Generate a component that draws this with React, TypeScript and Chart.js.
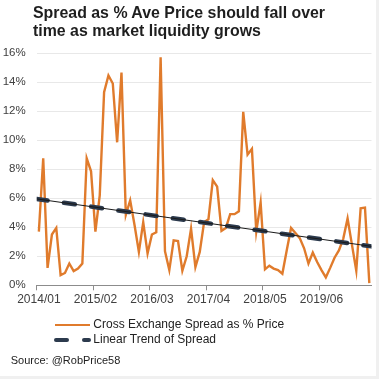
import React, { useEffect, useRef } from 'react';
import { Chart, registerables } from 'chart.js';

Chart.register(...registerables);

// Monthly categories 2014/01 .. 2020/05
const months: string[] = [
  '2014/01', '2014/02', '2014/03', '2014/04', '2014/05', '2014/06', '2014/07', '2014/08', '2014/09', '2014/10', '2014/11', '2014/12',
  '2015/01', '2015/02', '2015/03', '2015/04', '2015/05', '2015/06', '2015/07', '2015/08', '2015/09', '2015/10', '2015/11', '2015/12',
  '2016/01', '2016/02', '2016/03', '2016/04', '2016/05', '2016/06', '2016/07', '2016/08', '2016/09', '2016/10', '2016/11', '2016/12',
  '2017/01', '2017/02', '2017/03', '2017/04', '2017/05', '2017/06', '2017/07', '2017/08', '2017/09', '2017/10', '2017/11', '2017/12',
  '2018/01', '2018/02', '2018/03', '2018/04', '2018/05', '2018/06', '2018/07', '2018/08', '2018/09', '2018/10', '2018/11', '2018/12',
  '2019/01', '2019/02', '2019/03', '2019/04', '2019/05', '2019/06', '2019/07', '2019/08', '2019/09', '2019/10', '2019/11', '2019/12',
  '2020/01', '2020/02', '2020/03', '2020/04', '2020/05',
];

// Cross exchange spread as % of price
const spread: number[] = [
  3.7, 8.75, 1.2, 3.5, 3.95, 0.7, 0.85, 1.5, 0.98, 1.15, 1.5, 8.75,
  7.85, 3.7, 6.2, 13.3, 14.45, 13.9, 9.85, 14.65, 4.85, 5.85, 4.15, 2.3,
  4.35, 2.2, 3.5, 3.65, 15.7, 2.35, 1.05, 3.1, 3.05, 1.0, 2.0, 3.9,
  1.25, 2.3, 4.35, 4.55, 7.25, 6.8, 3.75, 3.95, 4.9, 4.9, 5.1, 11.95,
  9.0, 9.4, 3.7, 5.7, 1.1, 1.35, 1.15, 1.05, 0.8, 2.4, 3.95, 3.6,
  3.25, 2.55, 1.5, 2.25, 1.6, 1.05, 0.55, 1.2, 1.9, 2.4, 3.2, 4.6,
  2.8, 1.0, 5.3, 5.35, 0.15,
];

// Linear trend: value at left edge and at right edge of the plot
const trendValues: number[] = [5.95, 2.68];

const tickLabels: string[] = ['2014/01', '2015/02', '2016/03', '2017/04', '2018/05', '2019/06'];
const yTicks: number[] = [0, 2, 4, 6, 8, 10, 12, 14, 16];

const ORANGE = '#E07B2C';
const NAVY = '#2C3A4D';
const FONT = "'Liberation Sans', Arial, Helvetica, sans-serif";

export default function App() {
  const ref = useRef<HTMLCanvasElement>(null);

  useEffect(() => {
    const tickSet = new Set(tickLabels);
    const trendData = [
      { x: 0, y: trendValues[0] },
      { x: months.length, y: trendValues[1] },
    ];
    const chart = new Chart(ref.current as HTMLCanvasElement, {
      type: 'line',
      data: {
        labels: months,
        datasets: [
          {
            label: 'Cross Exchange Spread as % Price',
            data: spread,
            borderColor: ORANGE,
            backgroundColor: ORANGE,
            borderWidth: 2.4,
            pointRadius: 0,
            tension: 0,
            xAxisID: 'x',
            yAxisID: 'y',
            order: 2,
          },
          {
            label: 'Linear Trend of Spread',
            data: trendData as any,
            borderColor: NAVY,
            borderWidth: 4.5,
            borderDash: [11, 16.5],
            borderCapStyle: 'round',
            pointRadius: 0,
            xAxisID: 'xt',
            yAxisID: 'y',
            order: 1,
          },
          {
            label: 'trend thin',
            data: trendData as any,
            borderColor: '#1a1a1a',
            borderWidth: 1,
            pointRadius: 0,
            xAxisID: 'xt',
            yAxisID: 'y',
            order: 0,
          },
        ],
      },
      options: {
        responsive: false,
        animation: false,
        devicePixelRatio: 1,
        layout: { padding: { top: 53, right: 7.5, bottom: 60, left: 0 } },
        plugins: {
          legend: { display: false },
          title: { display: false },
          tooltip: { enabled: false },
        },
        scales: {
          x: {
            type: 'category',
            offset: true,
            grid: {
              offset: true,
              drawOnChartArea: false,
              drawTicks: true,
              tickLength: 5,
              color: (ctx: any) =>
                ctx.index < months.length && tickSet.has(months[ctx.index]) ? '#8c8c8c' : 'rgba(0,0,0,0)',
            },
            border: { display: true, color: '#8c8c8c', width: 1 },
            ticks: {
              autoSkip: false,
              maxRotation: 0,
              minRotation: 0,
              padding: 2,
              color: '#404040',
              font: { family: FONT, size: 12 },
              callback: (_v: any, i: number) => (tickSet.has(months[i]) ? months[i] : ''),
            },
            afterFit: (s: any) => {
              s.height = 379 - 60 - 285.3;
            },
          },
          xt: {
            type: 'linear',
            display: false,
            min: 0,
            max: months.length,
          },
          y: {
            min: yTicks[0],
            max: yTicks[yTicks.length - 1],
            afterBuildTicks: (s: any) => {
              s.ticks = yTicks.map((v) => ({ value: v }));
            },
            ticks: {
              padding: 11,
              color: '#404040',
              font: { family: FONT, size: 11.5 },
              callback: (v: any) => v + '%',
            },
            grid: { color: '#e8e8e8', lineWidth: 1, drawTicks: false },
            border: { display: false },
            afterFit: (s: any) => {
              s.width = 36.7;
            },
          },
        },
      } as any,
    });
    return () => chart.destroy();
  }, []);

  const textStyle: React.CSSProperties = {
    position: 'absolute',
    fontFamily: FONT,
    color: '#222',
    whiteSpace: 'nowrap',
  };

  return (
    <div
      style={{
        position: 'fixed',
        left: 0,
        top: 0,
        width: 379,
        height: 379,
        background: '#fff',
        overflow: 'hidden',
      }}
    >
      <canvas ref={ref} width={379} height={379} style={{ position: 'absolute', left: 0, top: 0, width: 379, height: 379 }} />
      <div
        style={{
          ...textStyle,
          left: 33,
          top: 4,
          fontSize: 15.9,
          lineHeight: '17.7px',
          fontWeight: 'bold',
          color: '#1e1e1e',
        }}
      >
        Spread as % Ave Price should fall over
        <br />
        time as market liquidity grows
      </div>
      {/* Legend */}
      <div style={{ position: 'absolute', left: 55, top: 324, width: 35, height: 2.4, background: ORANGE }} />
      <div style={{ ...textStyle, left: 93.3, top: 317, fontSize: 12, lineHeight: '15px' }}>
        Cross Exchange Spread as % Price
      </div>
      <div style={{ position: 'absolute', left: 54, top: 337.7, width: 15, height: 4.4, borderRadius: 2.2, background: NAVY }} />
      <div style={{ position: 'absolute', left: 82, top: 337.7, width: 8.5, height: 4.4, borderRadius: 2.2, background: NAVY }} />
      <div style={{ ...textStyle, left: 93.3, top: 332.3, fontSize: 12, lineHeight: '15px' }}>
        Linear Trend of Spread
      </div>
      <div style={{ ...textStyle, left: 10.7, top: 354.4, fontSize: 11, lineHeight: '13px' }}>
        Source: @RobPrice58
      </div>
      <div style={{ position: 'absolute', right: 0, top: 0, width: 3, height: 379, background: '#f0f0f0' }} />
      <div style={{ position: 'absolute', left: 0, bottom: 0, width: 379, height: 3, background: '#f0f0f0' }} />
    </div>
  );
}
